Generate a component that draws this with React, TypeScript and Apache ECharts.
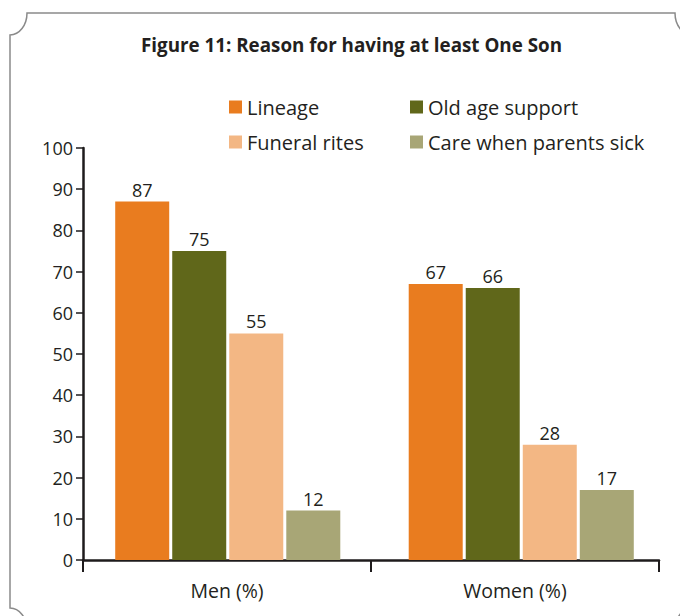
import React, { useEffect, useRef } from "react";
import * as echarts from "echarts";

const categories = ["Men (%)", "Women (%)"];
const lineage = [87, 67];
const oldAge = [75, 66];
const funeral = [55, 28];
const care = [12, 17];
const seriesNames = ["Lineage", "Old age support", "Funeral rites", "Care when parents sick"];
const colors = ["#E97C1F", "#60671A", "#F3B784", "#A8A676"];
const yTicks = { min: 0, max: 100, interval: 10 };

const FONT = "'Open Sans', sans-serif";
const TXT = "#231f20";
const AX = "#1e1b1c";

echarts.graphic.registerShape(
  "frame",
  echarts.graphic.extendPath(
    "M 27 13 L 675 13 A 17 22 0 0 0 692 35 L 692 608 A 17 22 0 0 0 675 630 L 27 630 A 17 22 0 0 0 10 608 L 10 35 A 17 22 0 0 0 27 13 Z",
    {}
  )
);

export default function App() {
  const ref = useRef<HTMLDivElement>(null);
  useEffect(() => {
    const chart = echarts.init(ref.current!, null, { renderer: "svg" });
    const values = [lineage, oldAge, funeral, care];
    const legendText = { fontFamily: FONT, fontSize: 20, color: TXT, lineHeight: 20 };
    chart.setOption({
      animation: false,
      textStyle: { fontFamily: FONT },
      title: {
        text: "Figure 11: Reason for having at least One Son",
        left: 141,
        top: 35,
        padding: 0,
        textStyle: { fontFamily: FONT, fontSize: 18.8, fontWeight: "bold", color: TXT },
      },
      legend: [
        {
          data: [seriesNames[0], seriesNames[2]],
          orient: "vertical",
          left: 229,
          top: 97,
          itemWidth: 13,
          itemHeight: 13,
          itemGap: 15,
          padding: 0,
          icon: "rect",
          textStyle: legendText,
        },
        {
          data: [seriesNames[1], seriesNames[3]],
          orient: "vertical",
          left: 410,
          top: 97,
          itemWidth: 13,
          itemHeight: 13,
          itemGap: 15,
          padding: 0,
          icon: "rect",
          textStyle: legendText,
        },
      ],
      grid: [
        { left: 83, right: 21, top: 148, bottom: 56, containLabel: false },
        { left: 81, right: 12, top: 148, bottom: 56, containLabel: false },
      ],
      xAxis: [
        {
          type: "category",
          gridIndex: 0,
          data: categories,
          axisLine: { lineStyle: { color: AX, width: 2.5 } },
          axisTick: { show: true, length: 12, lineStyle: { color: AX, width: 2 } },
          axisLabel: { fontFamily: FONT, fontSize: 19.5, color: TXT, margin: 20 },
        },
        {
          type: "category",
          gridIndex: 1,
          data: categories,
          show: false,
        },
      ],
      yAxis: [
        {
          type: "value",
          gridIndex: 0,
          ...yTicks,
          splitLine: { show: false },
          axisLine: { show: true, lineStyle: { color: AX, width: 2.5 } },
          axisTick: { show: true, length: 7, lineStyle: { color: AX, width: 1.5 } },
          axisLabel: { fontFamily: FONT, fontSize: 18, color: TXT, margin: 10 },
        },
        {
          type: "value",
          gridIndex: 1,
          ...yTicks,
          show: false,
          splitLine: { show: false },
        },
      ],
      series: seriesNames.map((name, i) => ({
        name,
        type: "bar",
        xAxisIndex: 1,
        yAxisIndex: 1,
        data: values[i],
        barWidth: 54,
        barGap: "5.6%",
        itemStyle: { color: colors[i] },
        label: {
          show: true,
          position: "top",
          distance: 3,
          fontFamily: FONT,
          fontSize: 18,
          color: TXT,
        },
      })),
      graphic: [
        {
          type: "frame",
          x: 0,
          y: 0,
          silent: true,
          style: { fill: "none", stroke: "#8a8a8a", lineWidth: 1.5 },
        },
      ],
    });
    return () => chart.dispose();
  }, []);
  return <div ref={ref} style={{ width: 680, height: 616, position: "absolute", left: 0, top: 0 }} />;
}
